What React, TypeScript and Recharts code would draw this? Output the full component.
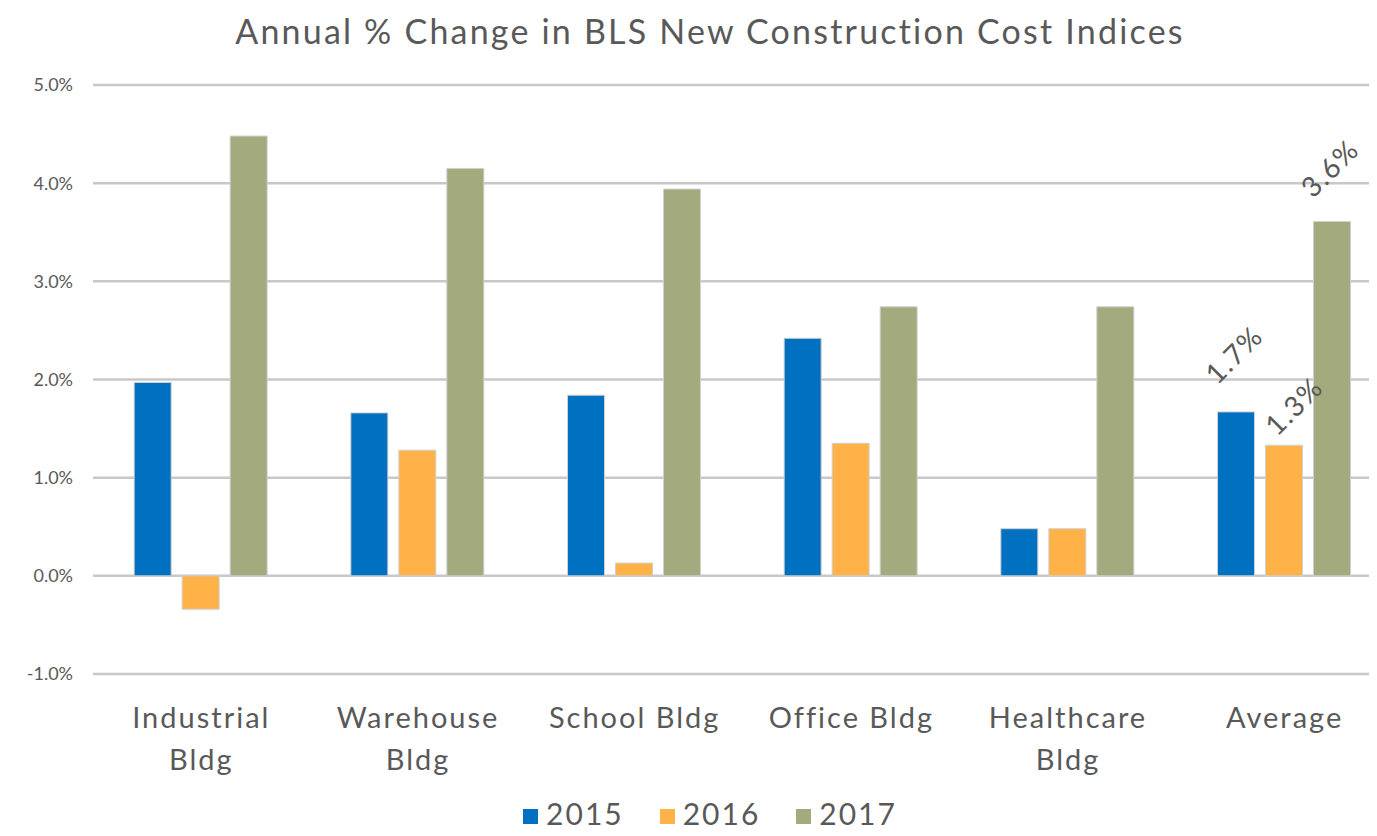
import React from "react";
import {
  BarChart,
  Bar,
  XAxis,
  YAxis,
  CartesianGrid,
  LabelList,
} from "recharts";

const categories = [
  "Industrial Bldg",
  "Warehouse Bldg",
  "School Bldg",
  "Office Bldg",
  "Healthcare Bldg",
  "Average",
];
const twoLine = [true, true, false, false, true, false];
const values2015 = [1.97, 1.66, 1.84, 2.42, 0.48, 1.67];
const values2016 = [-0.34, 1.28, 0.13, 1.35, 0.48, 1.33];
const values2017 = [4.48, 4.15, 3.94, 2.74, 2.74, 3.61];
const yTicks = [-1, 0, 1, 2, 3, 4, 5];
const labelledIndex = 5;

const series = [
  { key: "y2015", name: "2015", color: "#0070C0", ldx: 0, ldy: -55 },
  { key: "y2016", name: "2016", color: "#FFB247", ldx: 12, ldy: -37 },
  { key: "y2017", name: "2017", color: "#A3AA7E", ldx: 0, ldy: -51 },
];

const data = categories.map((c, i) => ({
  name: c,
  y2015: values2015[i],
  y2016: values2016[i],
  y2017: values2017[i],
}));

const FONT = "Lato, 'Open Sans', sans-serif";
const TEXT = "#595959";

const XTick = ({ x, y, payload, index }: any) => {
  const label: string = payload.value;
  const words = label.split(" ");
  const lines = twoLine[index]
    ? [words.slice(0, -1).join(" "), words[words.length - 1]]
    : [label];
  return (
    <text
      x={x}
      y={y}
      textAnchor="middle"
      fill={TEXT}
      fontSize={29}
      fontFamily={FONT}
      letterSpacing={2}
    >
      {lines.map((l, i) => (
        <tspan key={i} x={x} dy={i === 0 ? 46 : 42}>
          {l}
        </tspan>
      ))}
    </text>
  );
};

const RotLabel = (props: any) => {
  const { x, y, width, height, value, index, ldx, ldy } = props;
  if (index !== labelledIndex) return null;
  const cx = x + width / 2 + ldx;
  const top = Math.min(y, y + height);
  const cy = top + ldy;
  return (
    <text
      x={cx}
      y={cy}
      textAnchor="middle"
      dominantBaseline="middle"
      fill={TEXT}
      fontSize={28}
      fontFamily={FONT}
      letterSpacing={1.5}
      transform={`rotate(-45 ${cx} ${cy})`}
    >
      {Number(value).toFixed(1)}%
    </text>
  );
};

export default function App() {
  return (
    <div
      style={{
        position: "relative",
        width: 1377,
        height: 836,
        margin: -8,
        background: "#fff",
        overflow: "hidden",
      }}
    >
      <div
        style={{
          position: "absolute",
          top: 11,
          left: 0,
          width: 1420,
          textAlign: "center",
          fontSize: 34,
          lineHeight: "40px",
          letterSpacing: 2.2,
          fontFamily: FONT,
          color: TEXT,
        }}
      >
        Annual % Change in BLS New Construction Cost Indices
      </div>
      <div style={{ position: "absolute", top: 0, left: 0 }}>
        <BarChart
          width={1400}
          height={836}
          data={data}
          margin={{ top: 85, right: 7, bottom: 62, left: 13 }}
          barCategoryGap="19%"
          barGap={11}
        >
          <CartesianGrid vertical={false} stroke="#c8c8c8" strokeWidth={2.5} />
          <YAxis
            domain={[-1, 5]}
            ticks={yTicks}
            width={80}
            axisLine={false}
            tickLine={false}
            tickSize={18}
            tick={{ fill: TEXT, fontSize: 18, fontFamily: FONT }}
            tickFormatter={(v: number) => `${v.toFixed(1)}%`}
          />
          <XAxis
            dataKey="name"
            axisLine={false}
            tickLine={false}
            interval={0}
            height={100}
            tick={<XTick />}
          />
          {series.map((s) => (
            <Bar
              key={s.key}
              dataKey={s.key}
              name={s.name}
              fill={s.color}
              stroke="#d0d0d0"
              strokeWidth={1}
              isAnimationActive={false}
            >
              <LabelList
                dataKey={s.key}
                content={(p: any) => <RotLabel {...p} ldx={s.ldx} ldy={s.ldy} />}
              />
            </Bar>
          ))}
        </BarChart>
      </div>
      <div
        style={{
          position: "absolute",
          top: 797,
          left: 0,
          width: 1420,
          display: "flex",
          justifyContent: "center",
          gap: 36,
          fontFamily: FONT,
          fontSize: 30,
          lineHeight: "32px",
          letterSpacing: 2,
          color: TEXT,
        }}
      >
        {series.map((s) => (
          <div key={s.key} style={{ display: "flex", alignItems: "center", gap: 8 }}>
            <span
              style={{ width: 15, height: 15, background: s.color, display: "inline-block", marginTop: 6 }}
            />
            <span>{s.name}</span>
          </div>
        ))}
      </div>
    </div>
  );
}
